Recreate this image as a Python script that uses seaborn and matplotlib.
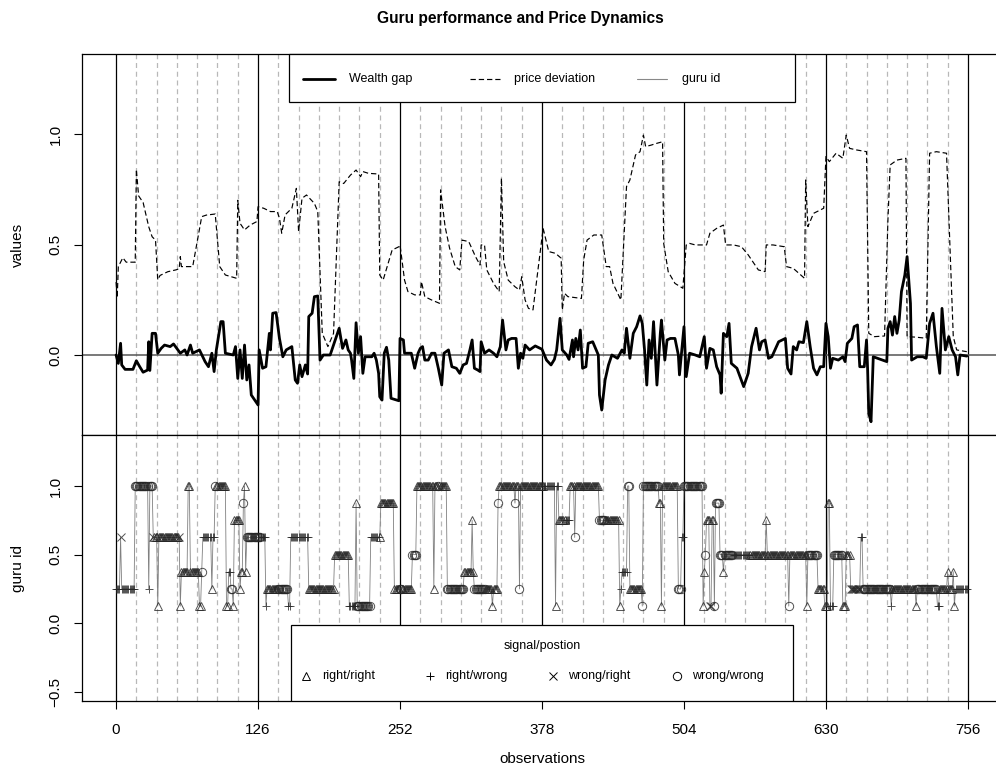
import numpy as np
import pandas as pd
import matplotlib
matplotlib.use("Agg")
import matplotlib.pyplot as plt
import seaborn as sns
from matplotlib.patches import Rectangle
from matplotlib.lines import Line2D

# ---------------- data ----------------
n_obs = 756
block_ticks = [0, 126, 252, 378, 504, 630, 756]
sub_step = 18

price_x = [0, 1, 2, 6, 9, 17, 18, 20, 24, 29, 32, 35, 37, 39, 46, 53, 56, 57, 58, 68, 76, 80, 88, 92, 97,
           107, 108, 110, 114, 119, 125, 126, 131, 137, 143, 145, 147, 150, 156, 160, 162, 165, 169, 176,
           179, 183, 188, 193, 198, 202, 208, 213, 217, 219, 224, 233, 234, 237, 245, 251, 252, 256, 259,
           265, 270, 271, 274, 280, 287, 288, 292, 296, 301, 305, 307, 313, 319, 323, 324, 327, 329, 335,
           340, 342, 344, 348, 354, 358, 360, 363, 366, 370, 379, 384, 390, 395, 396, 398, 401, 413, 415,
           418, 424, 431, 435, 438, 441, 448, 453, 456, 461, 465, 468, 470, 475, 480, 485, 486, 490, 496,
           503, 506, 509, 514, 524, 527, 533, 539, 541, 548, 555, 561, 570, 576, 577, 583, 593, 595, 601,
           611, 612, 614, 619, 628, 630, 633, 639, 645, 648, 651, 657, 666, 668, 673, 682, 685, 687, 693,
           701, 702, 709, 719, 722, 728, 737, 743, 746, 755]
price_y = [0.33, 0.26, 0.40, 0.44, 0.42, 0.42, 0.84, 0.72, 0.69, 0.58, 0.535, 0.52, 0.34, 0.36, 0.377, 0.385,
           0.39, 0.445, 0.40, 0.40, 0.626, 0.633, 0.638, 0.40, 0.362, 0.347, 0.70, 0.596, 0.566, 0.588, 0.604,
           0.671, 0.664, 0.649, 0.649, 0.619, 0.551, 0.634, 0.664, 0.754, 0.558, 0.709, 0.724, 0.686, 0.649,
           0.098, 0.038, 0.098, 0.784, 0.776, 0.814, 0.837, 0.807, 0.83, 0.822, 0.819, 0.362, 0.339, 0.475,
           0.49, 0.498, 0.339, 0.287, 0.272, 0.272, 0.332, 0.264, 0.249, 0.234, 0.747, 0.581, 0.483, 0.40,
           0.385, 0.52, 0.513, 0.445, 0.407, 0.498, 0.498, 0.385, 0.324, 0.287, 0.80, 0.422, 0.339, 0.309,
           0.294, 0.354, 0.249, 0.211, 0.204, 0.573, 0.468, 0.46, 0.438, 0.204, 0.279, 0.264, 0.256, 0.43,
           0.52, 0.543, 0.543, 0.40, 0.40, 0.324, 0.249, 0.762, 0.792, 0.905, 0.92, 0.995, 0.943, 0.95, 0.958,
           0.965, 0.505, 0.377, 0.324, 0.302, 0.498, 0.505, 0.498, 0.498, 0.551, 0.573, 0.588, 0.498, 0.498,
           0.49, 0.453, 0.385, 0.377, 0.498, 0.498, 0.49, 0.40, 0.392, 0.347, 0.792, 0.581, 0.641, 0.664,
           0.898, 0.875, 0.913, 0.89, 0.995, 0.935, 0.928, 0.92, 0.098, 0.083, 0.086, 0.611, 0.86, 0.882,
           0.89, 0.083, 0.081, 0.076, 0.913, 0.92, 0.913, 0.083, 0.023, 0.015]

wealth_x = [0, 2, 4, 5, 8, 15, 18, 21, 24, 28, 29, 30, 32, 35, 37, 40, 43, 48, 51, 57, 61, 63, 66, 68, 74, 79,
            82, 85, 87, 89, 93, 95, 97, 104, 106, 108, 110, 112, 114, 116, 118, 120, 124, 126, 127, 130, 133,
            136, 137, 139, 142, 145, 148, 151, 156, 159, 161, 163, 165, 168, 170, 171, 174, 176, 179, 181,
            184, 190, 198, 201, 204, 206, 208, 209, 211, 213, 215, 217, 219, 221, 227, 229, 231, 233, 234,
            236, 238, 240, 242, 244, 251, 252, 255, 256, 262, 265, 268, 270, 272, 274, 277, 280, 283, 286,
            289, 291, 295, 298, 302, 305, 308, 311, 314, 316, 318, 321, 323, 324, 327, 331, 335, 338, 341,
            343, 346, 348, 351, 355, 357, 359, 361, 363, 367, 372, 378, 382, 386, 389, 391, 394, 396, 400,
            402, 405, 406, 408, 410, 412, 414, 417, 419, 423, 428, 429, 431, 434, 437, 440, 445, 449, 451,
            453, 456, 459, 462, 465, 467, 469, 471, 473, 475, 477, 480, 483, 484, 487, 489, 492, 496, 499,
            500, 504, 506, 509, 514, 518, 522, 524, 527, 530, 533, 536, 537, 539, 542, 544, 546, 551, 557,
            561, 564, 568, 571, 573, 576, 579, 582, 588, 594, 596, 599, 601, 604, 606, 610, 613, 616, 619,
            622, 625, 628, 630, 632, 634, 636, 641, 645, 647, 649, 653, 655, 658, 660, 664, 666, 667, 668,
            670, 672, 684, 685, 687, 689, 691, 693, 695, 697, 700, 702, 705, 706, 711, 716, 719, 722, 725,
            728, 731, 733, 736, 739, 742, 745, 747, 749, 755]
wealth_y = [0, -0.038, 0.053, -0.045, -0.065, -0.065, -0.026, -0.053, -0.078, -0.068, 0.06, -0.07, 0.098,
            0.098, 0.008, 0.03, 0.045, 0.038, 0.05, 0.008, 0.023, 0, 0.045, 0.008, 0.023, -0.03, -0.053,
            0.008, -0.075, 0.023, 0.151, 0.151, 0.008, 0, 0.038, -0.106, 0.023, -0.106, 0.045, -0.113,
            -0.045, -0.181, -0.211, -0.226, 0.023, -0.06, -0.053, 0.098, 0.023, 0.189, 0.192, 0.075, -0.008,
            0.023, 0.038, -0.113, -0.128, -0.045, -0.098, -0.045, -0.086, 0.174, 0.189, 0.264, 0.267, -0.023,
            0, 0, 0.121, 0.03, 0.068, 0.023, 0.008, -0.023, -0.106, 0.146, 0.008, 0.083, -0.083, -0.008,
            -0.008, 0.008, -0.023, -0.083, -0.189, -0.204, 0.008, 0.035, -0.023, -0.196, -0.207, 0.075,
            0.068, 0.008, 0.008, -0.06, 0.008, 0.03, 0.038, -0.023, -0.023, 0.008, 0.008, -0.06, -0.136,
            0.008, 0.023, -0.053, -0.06, -0.083, -0.045, -0.038, 0.023, 0.068, -0.06, -0.068, -0.075, 0.06,
            0.008, 0.023, 0.008, -0.008, 0.038, 0.158, 0.023, 0.068, 0.075, 0.075, -0.06, 0.008, -0.015,
            0.045, 0.023, 0.041, 0.026, -0.023, -0.045, -0.02, 0.023, 0.166, 0.023, 0, -0.02, 0.068, -0.008,
            0.075, 0.023, 0.113, -0.06, -0.053, 0.053, 0.06, 0, -0.181, -0.249, -0.113, -0.045, 0, -0.015,
            0.023, 0.008, 0.121, -0.015, 0.098, 0.128, 0.177, 0.143, 0.023, -0.136, 0.068, -0.015, 0.151,
            -0.136, 0.098, 0.158, -0.023, 0.068, 0.075, 0.075, 0, -0.09, 0.128, -0.098, 0.008, 0, -0.008,
            0.083, -0.06, 0.03, 0.023, -0.053, -0.09, -0.173, 0.098, 0.083, 0.143, -0.038, -0.06, -0.143,
            -0.083, 0.038, 0.121, 0.023, 0.06, 0.068, -0.015, -0.008, 0.06, 0.075, -0.06, -0.086, 0.038,
            0.023, 0.06, 0.056, 0.151, 0.038, -0.06, -0.09, -0.053, -0.053, 0.143, 0.083, -0.06, -0.015,
            -0.023, -0.008, -0.03, 0.053, 0.075, 0.128, 0.136, -0.053, -0.053, 0.068, -0.068, -0.264, -0.302,
            -0.008, -0.03, 0.121, 0.151, 0.09, 0.174, 0.098, 0.158, 0.287, 0.362, 0.445, 0.234, -0.023,
            -0.008, -0.008, -0.015, 0.143, 0.189, 0.038, -0.083, 0.211, 0.023, 0.083, 0.023, -0.008, -0.09,
            0, -0.005]

# guru id runs: first observation of each run, guru level (in eighths), signal/position class
guru_start = [0, 4, 5, 17, 29, 30, 33, 34, 37, 38, 56, 57, 58, 64, 66, 74, 76, 77, 85, 86, 88, 89, 98, 100,
              102, 104, 105, 110, 111, 113, 114, 115, 116, 129, 133, 134, 144, 153, 155, 171, 194, 207, 213,
              214, 226, 234, 235, 247, 252, 254, 263, 267, 282, 283, 286, 287, 294, 309, 316, 317, 318, 328,
              334, 335, 339, 340, 354, 355, 358, 359, 380, 390, 391, 393, 399, 403, 407, 408, 429, 434, 447,
              448, 449, 454, 456, 467, 468, 482, 484, 485, 499, 502, 504, 521, 522, 523, 524, 527, 529, 531,
              532, 536, 539, 540, 548, 563, 577, 578, 597, 598, 613, 614, 623, 629, 632, 634, 637, 645, 648,
              652, 661, 663, 688, 689, 710, 711, 729, 731, 738, 739, 743, 744, 745]
guru_level = [2, 5, 2, 8, 2, 8, 5, 5, 1, 5, 5, 1, 3, 8, 3, 1, 3, 5, 2, 5, 8, 8, 1, 3,
              2, 1, 6, 2, 3, 7, 8, 3, 5, 5, 1, 2, 2, 1, 5, 2, 4, 1, 7,
              1, 5, 5, 7, 2, 2, 2, 4, 8, 2, 8, 8, 8, 2, 3, 6, 3, 2, 2,
              1, 2, 7, 8, 7, 8, 2, 8, 8, 1, 8, 6, 6, 8, 5, 8, 6, 6, 1,
              2, 3, 8, 2, 1, 8, 7, 1, 8, 2, 5, 8, 1, 3, 4, 6, 1, 6, 1,
              7, 4, 3, 4, 4, 4, 6, 4, 1, 4, 1, 4, 2, 1, 7, 1, 4, 1, 4,
              2, 5, 2, 1, 2, 1, 2, 1, 2, 3, 2, 3, 1, 2]
guru_signal = ["right/wrong", "wrong/right", "right/wrong", "wrong/wrong", "right/wrong", "wrong/wrong",
               "wrong/right", "right/right", "right/right", "right/right", "wrong/right", "right/right",
               "right/right", "right/right", "right/right", "right/right", "wrong/wrong", "right/wrong",
               "right/right", "right/wrong", "wrong/wrong", "right/right", "right/right", "right/wrong",
               "wrong/wrong", "right/right", "right/right", "right/right", "right/right", "wrong/wrong",
               "right/right", "right/right", "wrong/wrong", "right/wrong", "right/wrong", "right/right",
               "wrong/wrong", "right/wrong", "right/wrong", "right/right", "right/right", "right/wrong",
               "right/right", "wrong/wrong", "right/wrong", "right/right", "right/right", "right/right",
               "wrong/wrong", "right/right", "wrong/wrong", "right/right", "right/right", "right/right",
               "wrong/wrong", "right/right", "wrong/wrong", "right/right", "right/right", "right/right",
               "wrong/wrong", "right/right", "right/right", "right/right", "wrong/wrong", "right/right",
               "wrong/wrong", "right/right", "wrong/wrong", "right/right", "right/wrong", "right/right",
               "right/wrong", "right/right", "right/wrong", "right/right", "wrong/wrong", "right/right",
               "wrong/wrong", "right/right", "right/right", "right/wrong", "right/wrong", "wrong/wrong",
               "right/right", "wrong/wrong", "wrong/wrong", "right/right", "right/right", "right/right",
               "wrong/wrong", "right/wrong", "wrong/wrong", "right/right", "right/right", "wrong/wrong",
               "right/right", "wrong/right", "right/right", "wrong/wrong", "wrong/wrong", "wrong/wrong",
               "right/right", "wrong/wrong", "right/wrong", "right/right", "right/right", "right/right",
               "wrong/wrong", "right/right", "right/right", "wrong/wrong", "right/right", "right/right",
               "right/right", "right/wrong", "wrong/wrong", "right/right", "right/right", "wrong/right",
               "right/wrong", "wrong/wrong", "right/wrong", "right/right", "right/right", "wrong/wrong",
               "right/wrong", "right/right", "right/right", "right/right", "right/right", "right/right",
               "right/wrong"]

signal_classes = ["right/right", "right/wrong", "wrong/right", "wrong/wrong"]
signal_markers = {"right/right": "^", "right/wrong": "+", "wrong/right": "x", "wrong/wrong": "o"}

# ---------------- build per-observation guru table ----------------
run_ends = guru_start[1:] + [n_obs]
obs, gid, gsig = [], [], []
for s, e, lv, sg in zip(guru_start, run_ends, guru_level, guru_signal):
    for i in range(s, e):
        obs.append(i)
        gid.append(lv / 8)
        gsig.append(sg)
guru_df = pd.DataFrame({"obs": obs, "guru": gid, "signal": gsig})
price_df = pd.DataFrame({"obs": price_x, "value": price_y})
wealth_df = pd.DataFrame({"obs": wealth_x, "value": wealth_y})

# ---------------- style ----------------
sns.set_theme(style="white")
plt.rcParams["font.family"] = ["Liberation Sans", "DejaVu Sans"]
plt.rcParams["axes.edgecolor"] = "black"
plt.rcParams["axes.linewidth"] = 0.9
plt.rcParams["text.color"] = "black"
plt.rcParams["axes.labelcolor"] = "black"
plt.rcParams["xtick.color"] = "black"
plt.rcParams["ytick.color"] = "black"

W, H = 996, 768
fig = plt.figure(figsize=(W / 100, H / 100), dpi=100)
ax_l, ax_w = 82 / W, 920 / W
ax1 = fig.add_axes([ax_l, 1 - 435 / H, ax_w, (435 - 54) / H])
ax2 = fig.add_axes([ax_l, 1 - 701 / H, ax_w, (701 - 435) / H])

xlim = (-30.24, 786.24)
for ax in (ax1, ax2):
    ax.set_xlim(*xlim)
    for v in range(0, n_obs + 1, sub_step):
        if v % 126 != 0:
            ax.axvline(v, color="#b8b8b8", lw=0.9, ls=(0, (4, 3)), zorder=1)
    for v in block_ticks:
        ax.axvline(v, color="black", lw=0.9, zorder=1.5)
    for sp in ax.spines.values():
        sp.set_visible(True)
        sp.set_color("black")
        sp.set_linewidth(0.9)

# ---------------- top panel ----------------
ax1.set_ylim(-0.362, 1.362)
ax1.axhline(0, color="#555555", lw=1.1, zorder=2)
sns.lineplot(data=price_df, x="obs", y="value", ax=ax1, color="black", lw=0.85,
             linestyle=(0, (4.5, 2.5)), estimator=None, sort=False, zorder=3)
sns.lineplot(data=wealth_df, x="obs", y="value", ax=ax1, color="black", lw=2.0,
             estimator=None, sort=False, zorder=4)
ax1.set_yticks([0.0, 0.5, 1.0])
ax1.set_yticklabels(["0.0", "0.5", "1.0"], rotation=90, va="center")
ax1.set_xticks([])
ax1.set_xlabel("")
ax1.set_ylabel("values", fontsize=11, color="black")
ax1.yaxis.set_label_coords(-0.062, 0.5)
ax1.tick_params(axis="y", direction="out", length=6, width=0.8, pad=8, labelsize=11, left=True,
                colors="black")

# top legend (opaque box)
ax1.add_patch(Rectangle(((289 - 82) / 920, (435 - 102) / 381), (795 - 289) / 920, (102 - 54) / 381,
                        transform=ax1.transAxes, facecolor="white", edgecolor="black", lw=0.9,
                        zorder=10, clip_on=False))
ly = (435 - 79) / 381
leg_items = [("Wealth gap", 303, 335, 349, dict(color="black", lw=2.0)),
             ("price deviation", 470, 500, 514, dict(color="black", lw=0.85, ls=(0, (4.5, 2.5)))),
             ("guru id", 637, 667, 682, dict(color="#888888", lw=0.8))]
for lab, x0, x1, xt, st in leg_items:
    ax1.add_line(Line2D([(x0 - 82) / 920, (x1 - 82) / 920], [ly, ly], transform=ax1.transAxes,
                        zorder=11, **st))
    ax1.text((xt - 82) / 920, ly, lab, transform=ax1.transAxes, ha="left", va="center",
             fontsize=9, color="black", zorder=11)

# ---------------- bottom panel ----------------
ax2.set_ylim(-0.566, 1.371)
sns.lineplot(data=guru_df, x="obs", y="guru", ax=ax2, color="#808080", lw=0.6,
             estimator=None, sort=False, zorder=3)
for sg in signal_classes:
    sub = guru_df[guru_df["signal"] == sg]
    ax2.plot(sub["obs"], sub["guru"], linestyle="none", marker=signal_markers[sg], ms=6,
             mfc="none", mec="#262626", mew=0.7, alpha=0.8, zorder=4)
ax2.set_yticks([-0.5, 0.0, 0.5, 1.0])
ax2.set_yticklabels(["\u22120.5", "0.0", "0.5", "1.0"], rotation=90, va="center")
ax2.set_xticks(block_ticks)
ax2.set_xticklabels([str(v) for v in block_ticks])
ax2.set_ylabel("guru id", fontsize=11, color="black")
ax2.yaxis.set_label_coords(-0.062, 0.5)
ax2.set_xlabel("observations", fontsize=11, color="black")
ax2.xaxis.set_label_coords(0.5, -0.193)
ax2.tick_params(axis="y", direction="out", length=6, width=0.8, pad=8, labelsize=11,
                left=True, colors="black")
ax2.tick_params(axis="x", direction="out", length=6, width=0.8, pad=10, labelsize=11,
                bottom=True, colors="black")

# bottom legend (opaque box)
ax2.add_patch(Rectangle(((291 - 82) / 920, 0), (793 - 291) / 920, (701 - 625) / 266,
                        transform=ax2.transAxes, facecolor="white", edgecolor="black", lw=0.9,
                        zorder=10))
ax2.text((542 - 82) / 920, (701 - 646) / 266, "signal/postion", transform=ax2.transAxes,
         ha="center", va="center", fontsize=9, color="black", zorder=11)
ey = (701 - 676) / 266
for sg, xm, xt in zip(signal_classes, [306, 430, 553, 677], [322, 445, 568, 692]):
    ax2.add_line(Line2D([(xm - 82) / 920], [ey], transform=ax2.transAxes, marker=signal_markers[sg],
                        ms=6, mfc="none", mec="black", mew=0.7, ls="none", zorder=11))
    ax2.text((xt - 82) / 920, ey, sg, transform=ax2.transAxes, ha="left", va="center",
             fontsize=9, color="black", zorder=11)

fig.text(520 / W, 1 - 18 / H, "Guru performance and Price Dynamics", ha="center", va="center",
         fontsize=11.2, fontweight="bold", color="black")

fig.savefig("out.png", dpi=100)
